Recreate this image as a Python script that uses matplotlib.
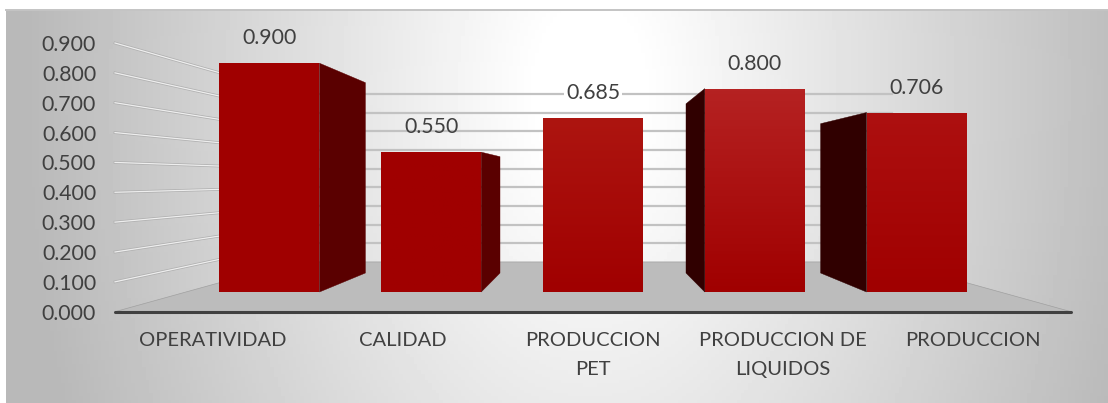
import numpy as np
import matplotlib
matplotlib.use("Agg")
import matplotlib.pyplot as plt
from matplotlib.patches import Polygon
from matplotlib.transforms import IdentityTransform
from matplotlib.colors import to_rgb

categories = ["OPERATIVIDAD", "CALIDAD", "PRODUCCION\nPET", "PRODUCCION DE\nLIQUIDOS", "PRODUCCION"]
values = [0.900, 0.550, 0.685, 0.800, 0.706]
value_labels = ["0.900", "0.550", "0.685", "0.800", "0.706"]
y_ticks = [0.0, 0.1, 0.2, 0.3, 0.4, 0.5, 0.6, 0.7, 0.8, 0.9]
bar_top_colors = ["#a00000", "#a00000", "#ad1510", "#b52222", "#ad1010"]
bar_bottom_colors = ["#a00000", "#a00000", "#a00000", "#a00000", "#a00000"]

W, H = 1108, 403
plt.rcParams['font.family'] = ['Lato', 'DejaVu Sans']
fig = plt.figure(figsize=(W / 100, H / 100), dpi=100, facecolor="white")

def rect(l, t, r, b):
    return [l / W, 1 - b / H, (r - l) / W, (b - t) / H]

# --- background panel
bg = fig.add_axes([0, 0, 1, 1], zorder=0)
bg.set_xlim(0, W); bg.set_ylim(H, 0); bg.axis("off")
PX0, PX1, PY0, PY1 = 6, 1108, 10, 403
gx, gy = np.meshgrid(np.linspace(PX0, PX1, 300), np.linspace(PY0, PY1, 120))
dx = np.abs(gx - 590) / 518
dy = np.abs(gy - 90) / 313
d = np.sqrt(dx ** 2 + 0.15 * dy ** 2)
shade = 1.0 - 0.25 * np.clip((d - 0.1) / 0.9, 0, 1.1)
bg.imshow(shade, cmap="gray", vmin=0, vmax=1, extent=(PX0, PX1, PY1, PY0), aspect="auto", zorder=0)
bg.set_xlim(0, W); bg.set_ylim(H, 0)
bg.plot([PX0, PX1], [10, 10], color="#c4c4c4", lw=1.4, zorder=1)

# --- perspective frame: the front plane holds the axis, the others scale about the vanishing point
VX, VY = 593.0, 179.0
FRONT_L, FRONT_R, FRONT_B, FRONT_T = 115.0, 1071.0, 311.7, 43.0
S_BAR, S_BACK, S_WALL = 0.8515, 0.832, 0.625

ax = fig.add_axes(rect(FRONT_L, FRONT_T, FRONT_R, FRONT_B), zorder=1)
ax.patch.set_alpha(0)
for sp in ax.spines.values():
    sp.set_visible(False)
ax.set_xlim(-0.516, 4.516)
ax.set_ylim(0, 0.9)
ax.set_xticks(range(len(categories)))
ax.set_xticklabels(categories, fontsize=14.5, color="#404040", linespacing=1.85)
ax.set_yticks(y_ticks)
ax.set_yticklabels([f"{t:.3f}" for t in y_ticks], fontsize=15.3, color="#404040")
ax.tick_params(axis="x", length=0, pad=14.5)
ax.tick_params(axis="y", length=0, pad=13.5)

vd = np.array([VX, H - VY])

def scaled(points, s):
    return vd + (np.asarray(points, float) - vd) * s

def front(x, v):
    return ax.transData.transform((x, v))

idt = IdentityTransform()
xl, xr = ax.get_xlim()

# floor
floor = [front(xl, 0), front(xr, 0), scaled(front(xr, 0), S_WALL), scaled(front(xl, 0), S_WALL)]
ax.add_patch(Polygon(floor, closed=True, transform=idt, facecolor="#bcbcbc", edgecolor="#a0a0a0", lw=0.5, clip_on=False, zorder=1))

# walls
for t in y_ticks[1:]:
    a = scaled(front(xl, t), S_WALL)
    b = scaled(front(xr, t), S_WALL)
    ax.plot([a[0], b[0]], [a[1], b[1]], transform=idt, color="#c2c2c2", lw=1.6, clip_on=False, zorder=2)
    p = front(xl, t)
    ax.plot([p[0], a[0]], [p[1], a[1]], transform=idt, color="#b0b0b0", lw=2.0, clip_on=False, zorder=2)
    ax.plot([p[0], a[0]], [p[1], a[1]], transform=idt, color="#eeeeee", lw=0.9, clip_on=False, zorder=2.1)

# baseline
ax.plot([xl, xr], [0, 0], color="#404040", lw=2.2, solid_capstyle="round", clip_on=False, zorder=3)

# --- bars, on their own plane
ax_b = fig.add_axes(rect(VX + (FRONT_L - VX) * S_BAR, VY + (FRONT_T - VY) * S_BAR,
                         VX + (FRONT_R - VX) * S_BAR, VY + (FRONT_B - VY) * S_BAR), zorder=2)
ax_b.patch.set_alpha(0)
ax_b.axis("off")
ax_b.set_xlim(xl, xr)
ax_b.set_ylim(0, 0.9)
positions = np.arange(len(values))
bars = ax_b.bar(positions, values, width=0.618, color=bar_bottom_colors, zorder=3)

for i, (bar, v) in enumerate(zip(bars, values)):
    left, right = bar.get_x(), bar.get_x() + bar.get_width()
    pl, pr = ax_b.transData.transform((left, 0)), ax_b.transData.transform((right, 0))
    if pr[0] < VX:
        edge, col = right, "#5a0000"
    elif pl[0] > VX:
        edge, col = left, "#300000"
    else:
        edge = None
    if edge is not None:
        e0 = ax_b.transData.transform((edge, 0))
        e1 = ax_b.transData.transform((edge, v))
        quad = [e0, e1, scaled(e1, S_BACK), scaled(e0, S_BACK)]
        ax_b.add_patch(Polygon(quad, closed=True, transform=idt, facecolor=col, edgecolor=col, lw=0.3, clip_on=False, zorder=2))
    # soft vertical shading of the front face
    grad = np.linspace(0, 1, 64)[:, None, None]
    rgb = (1 - grad) * np.array(to_rgb(bar_top_colors[i])) + grad * np.array(to_rgb(bar_bottom_colors[i]))
    im = ax_b.imshow(rgb, extent=(left, right, 0, v), origin="upper", aspect="auto", zorder=3.2)
    im.set_clip_path(bar)
    box = dict(facecolor="white", edgecolor="none", pad=1) if i == 2 else None
    ax_b.annotate(value_labels[i], (i, v), xytext=(0, 18), textcoords="offset points", ha="center", va="center",
                  fontsize=15.3, color="#404040", bbox=box, annotation_clip=False, zorder=5)

ax_b.set_xlim(xl, xr)
ax_b.set_ylim(0, 0.9)
ax_b.set_aspect("auto")

fig.savefig("out.png", dpi=100, facecolor="white")
